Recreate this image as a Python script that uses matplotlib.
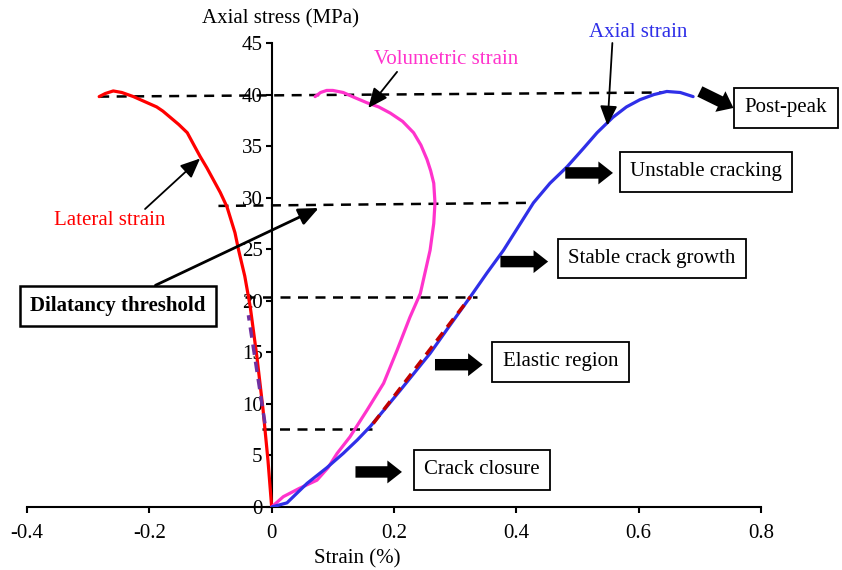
import numpy as np
import matplotlib.pyplot as plt
from matplotlib.patches import FancyArrowPatch

plt.rcParams['font.family'] = ['Liberation Serif', 'DejaVu Serif']
plt.rcParams['font.size'] = 15

# stress-strain curves (strain %, stress MPa)
lat_x = [0, -0.006, -0.014, -0.024, -0.035, -0.044, -0.054, -0.060, -0.073,
         -0.084, -0.095, -0.106, -0.117, -0.128, -0.138, -0.152, -0.166,
         -0.178, -0.188, -0.207, -0.226, -0.245, -0.259, -0.272, -0.282]
lat_y = [0, 4.5, 9.4, 14.5, 19.4, 22.4, 24.9, 26.6, 29.1, 30.5, 31.7, 32.9,
         34.0, 35.2, 36.3, 37.1, 37.8, 38.4, 38.8, 39.3, 39.8, 40.2, 40.35,
         40.1, 39.8]

vol_x = [0, 0.019, 0.045, 0.074, 0.092, 0.107, 0.128, 0.156, 0.183, 0.205,
         0.226, 0.243, 0.259, 0.265, 0.267, 0.265, 0.260, 0.254, 0.244,
         0.232, 0.214, 0.194, 0.175, 0.156, 0.136, 0.117, 0.100, 0.090,
         0.080, 0.071]
vol_y = [0, 1.0, 1.8, 2.6, 3.8, 5.2, 6.8, 9.4, 12.0, 15.2, 18.4, 20.7, 24.9,
         27.5, 29.5, 31.4, 32.6, 33.7, 35.1, 36.3, 37.4, 38.2, 38.8, 39.2,
         39.7, 40.2, 40.4, 40.4, 40.2, 39.8]

ax_x = [0, 0.025, 0.058, 0.090, 0.117, 0.140, 0.161, 0.185, 0.210, 0.259,
        0.290, 0.325, 0.352, 0.379, 0.428, 0.455, 0.483, 0.510, 0.532,
        0.558, 0.580, 0.602, 0.625, 0.646, 0.668, 0.689]
ax_y = [0, 0.4, 2.3, 3.8, 5.2, 6.5, 7.8, 9.5, 11.3, 14.9, 17.5, 20.4, 22.7,
        24.9, 29.5, 31.4, 33.0, 34.8, 36.3, 37.8, 38.8, 39.5, 40.0, 40.3,
        40.2, 39.8]

# linear fits (dashed)
fit_lat_x = [-0.011, -0.038]
fit_lat_y = [8.1, 18.6]
fit_ax_x = [0.166, 0.325]
fit_ax_y = [8.1, 20.4]

# stress thresholds (horizontal dashed lines)
thr_x0 = [-0.282, -0.087, -0.043, -0.016]
thr_x1 = [0.640, 0.428, 0.336, 0.164]
thr_y0 = [39.8, 29.2, 20.4, 7.6]
thr_y1 = [40.2, 29.5, 20.4, 7.6]

stages = ['Post-peak', 'Unstable cracking', 'Stable crack growth',
          'Elastic region', 'Crack closure']
stage_xy = [(0.841, 38.7), (0.710, 32.5), (0.622, 24.1), (0.472, 14.1),
            (0.344, 3.6)]
stage_arrows = [((0.700, 40.3), (0.755, 38.7)), ((0.480, 32.4), (0.558, 32.4)),
                ((0.374, 23.8), (0.452, 23.8)), ((0.267, 13.8), (0.345, 13.8)),
                ((0.137, 3.4), (0.213, 3.4))]

fig = plt.figure(figsize=(8.42, 5.70), dpi=100)
ax = fig.add_axes([27 / 842, 63 / 570, 734 / 842, 464 / 570])

for x0, x1, y0, y1 in zip(thr_x0, thr_x1, thr_y0, thr_y1):
    ax.plot([x0, x1], [y0, y1], color='black', lw=1.8, dashes=(4, 3), zorder=2)

ax.plot(lat_x, lat_y, color='#ff0000', lw=2.3, solid_capstyle='round', zorder=3)
ax.plot(vol_x, vol_y, color='#ff33cc', lw=2.3, solid_capstyle='round', zorder=3)
ax.plot(ax_x, ax_y, color='#2f2fe8', lw=2.3, solid_capstyle='round', zorder=3)
ax.plot(fit_lat_x, fit_lat_y, color='#7030a0', lw=2.5, dashes=(3, 2), zorder=4)
ax.plot(fit_ax_x, fit_ax_y, color='#c00000', lw=2.5, dashes=(3, 2), zorder=4)

ax.set_xlim(-0.4, 0.8)
ax.set_ylim(0, 45)
ax.spines['left'].set_position(('data', 0))
ax.spines['top'].set_visible(False)
ax.spines['right'].set_visible(False)
for s in ['left', 'bottom']:
    ax.spines[s].set_linewidth(1.5)
ax.set_xticks([-0.4, -0.2, 0, 0.2, 0.4, 0.6, 0.8])
ax.set_xticklabels(['-0.4', '-0.2', '0', '0.2', '0.4', '0.6', '0.8'])
ax.set_yticks(range(0, 50, 5))
ax.tick_params(direction='out', length=4.5, width=1.5, labelsize=15)
ax.tick_params(axis='x', pad=8)
ax.tick_params(axis='y', pad=2)

ax.text(0.014, 47.3, 'Axial stress (MPa)', ha='center', va='center')
ax.text(0.140, -5.0, 'Strain (%)', ha='center', va='center')

# curve labels
arrow_kw = dict(arrowstyle='-|>,head_length=0.8,head_width=0.35', color='black',
                lw=1.3, shrinkA=0, shrinkB=0)
ax.annotate('', xy=(-0.117, 33.8), xytext=(-0.207, 28.9), arrowprops=arrow_kw)
ax.text(-0.264, 27.8, 'Lateral strain', color='#ff0000', ha='center', va='center')
ax.annotate('', xy=(0.158, 38.7), xytext=(0.205, 42.2), arrowprops=arrow_kw)
ax.text(0.285, 43.4, 'Volumetric strain', color='#ff33cc', ha='center', va='center')
ax.annotate('', xy=(0.549, 37.0), xytext=(0.557, 45.0), arrowprops=arrow_kw,
            annotation_clip=False)
ax.text(0.599, 46.0, 'Axial strain', color='#2f2fe8', ha='center', va='center')

ax.annotate('', xy=(0.077, 29.0), xytext=(-0.19, 21.5),
            arrowprops=dict(arrowstyle='-|>,head_length=0.8,head_width=0.35',
                            color='black', lw=2, shrinkA=0, shrinkB=0))
ax.text(-0.251, 19.5, 'Dilatancy threshold', fontweight='bold', ha='center',
        va='center', bbox=dict(boxstyle='square,pad=0.5', fc='white',
                               ec='black', lw=1.8))

for name, (tx, ty), (a, b) in zip(stages, stage_xy, stage_arrows):
    ax.text(tx, ty, name, ha='center', va='center', zorder=5,
            bbox=dict(boxstyle='square,pad=0.5', fc='white', ec='black', lw=1.3))
    ax.add_patch(FancyArrowPatch(a, b, arrowstyle='simple,head_length=0.7,head_width=1.1,tail_width=0.55',
                                 mutation_scale=15, color='black', lw=0,
                                 shrinkA=0, shrinkB=0, clip_on=False, zorder=5))

fig.savefig('out.png', dpi=100)
